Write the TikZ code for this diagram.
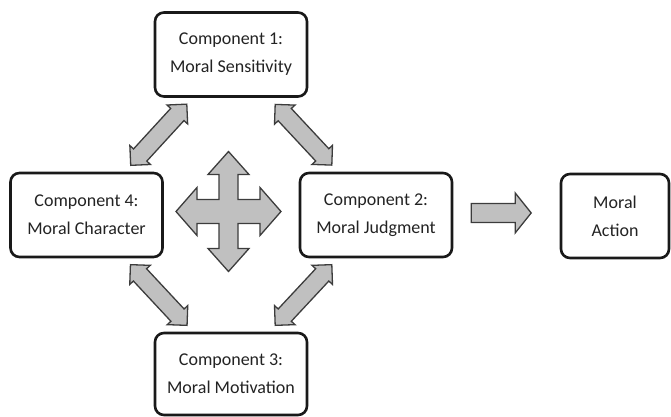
\documentclass[tikz,border=0pt]{standalone}
\usepackage{fontspec}
\setmainfont{Carlito}
\usetikzlibrary{positioning, calc}
\definecolor{boxline}{RGB}{25, 25, 25}
\definecolor{textgray}{RGB}{35, 35, 35}
\definecolor{arrowfill}{RGB}{192, 192, 192}
\definecolor{arrowline}{RGB}{60, 60, 60}

\tikzset{
  compbox/.style={draw=boxline, line width=2.6pt, rounded corners=9pt, fill=white, text=textgray,
    align=center, minimum width=152pt, minimum height=84pt, inner sep=0pt,
    font=\fontsize{18}{28}\selectfont},
  blockarrow/.style={draw=arrowline, fill=arrowfill, line width=1.3pt, line join=miter},
  pics/dblarrow/.style={code={
    \draw[blockarrow] (-41.5,0) -- (-27.5,14) -- (-27.5,9) -- (27.5,9) -- (27.5,14) -- (41.5,0)
      -- (27.5,-14) -- (27.5,-9) -- (-27.5,-9) -- (-27.5,-14) -- cycle;
  }},
}

\begin{document}
\begin{tikzpicture}[x=1pt, y=1pt]
  \useasboundingbox (0,0) rectangle (671,416);

  % the four components
  \node[compbox] (sens) at (231,361.5) {Component 1:\\Moral Sensitivity};
  \node[compbox] (judg) at (376,201) {Component 2:\\Moral Judgment};
  \node[compbox, minimum height=82pt] (motiv) at (231,42) {Component 3:\\Moral Motivation};
  \node[compbox] (char) at (86.5,201) {Component 4:\\Moral Character};
  \node[compbox, minimum width=108pt] (action) at (615,200) {Moral\\Action};

  % links between the components
  \pic[rotate=47.5] at ($(char.north east)!.5!(sens.south west)$) {dblarrow};
  \pic[rotate=-47] at ($(sens.south east)!.5!(judg.north west)$) {dblarrow};
  \pic[rotate=-47] at ($(char.south east)!.5!(motiv.north west)$) {dblarrow};
  \pic[rotate=47] at ($(judg.south west)!.5!(motiv.north east)$) {dblarrow};

  % four-way arrow in the middle
  \coordinate (hub) at (228.5,204.5);
  \draw[blockarrow, shift={(hub)}] (-52.5,0) -- (-31.5,24) -- (-31.5,12) -- (-9.5,12) -- (-9.5,37)
    -- (-20.5,37) -- (0,60) -- (20.5,37) -- (9.5,37) -- (9.5,12) -- (31.5,12) -- (31.5,24)
    -- (52.5,0) -- (31.5,-24) -- (31.5,-12) -- (9.5,-12) -- (9.5,-37) -- (20.5,-37) -- (0,-60)
    -- (-20.5,-37) -- (-9.5,-37) -- (-9.5,-12) -- (-31.5,-12) -- (-31.5,-24) -- cycle;

  % judgment leads to action
  \coordinate (fwd) at ($(judg.east)!.45!(action.west)+(0,2.5)$);
  \draw[blockarrow, shift={(fwd)}] (-30,9.5) -- (14,9.5) -- (14,20) -- (30,0) -- (14,-20)
    -- (14,-9.5) -- (-30,-9.5) -- cycle;
\end{tikzpicture}
\end{document}
